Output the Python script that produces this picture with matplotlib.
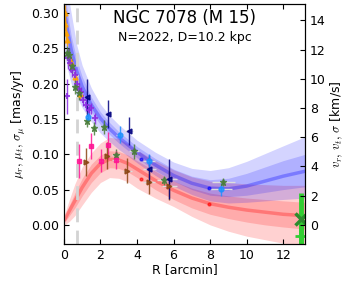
import numpy as np
import matplotlib
matplotlib.use('Agg')
import matplotlib.pyplot as plt

plt.rcParams['mathtext.fontset'] = 'cm'
plt.rcParams['font.size'] = 9

DIST = 10.2
KMS = 4.74 * DIST

# model: dispersion (blue)
r_sig = [0.05, 0.2, 0.4, 0.7, 1.0, 1.5, 2.0, 2.5, 3.0, 4.0, 5.0, 6.0, 7.0, 8.0, 9.0, 10.0, 11.0, 12.0, 13.2]
sig_mid = [0.300, 0.275, 0.248, 0.218, 0.196, 0.170, 0.151, 0.136, 0.124, 0.103, 0.085, 0.070, 0.059, 0.052, 0.051, 0.055, 0.062, 0.069, 0.076]
sig_lo1 = [0.270, 0.250, 0.228, 0.202, 0.183, 0.160, 0.142, 0.128, 0.116, 0.095, 0.077, 0.062, 0.050, 0.042, 0.040, 0.042, 0.046, 0.050, 0.054]
sig_hi1 = [0.330, 0.300, 0.268, 0.234, 0.210, 0.181, 0.160, 0.145, 0.132, 0.111, 0.094, 0.079, 0.069, 0.064, 0.066, 0.073, 0.082, 0.091, 0.100]
sig_lo2 = [0.240, 0.220, 0.200, 0.182, 0.166, 0.146, 0.130, 0.118, 0.107, 0.088, 0.070, 0.055, 0.043, 0.034, 0.031, 0.032, 0.034, 0.036, 0.038]
sig_hi2 = [0.360, 0.330, 0.300, 0.255, 0.226, 0.194, 0.171, 0.155, 0.142, 0.120, 0.103, 0.089, 0.080, 0.077, 0.081, 0.090, 0.101, 0.112, 0.125]

# model: rotation (red)
r_rot = [0.05, 0.3, 0.6, 1.0, 1.5, 2.0, 2.5, 3.0, 3.5, 4.0, 5.0, 6.0, 7.0, 8.0, 9.0, 10.0, 11.0, 12.0, 13.2]
rot_mid = [0.008, 0.020, 0.034, 0.053, 0.073, 0.087, 0.093, 0.092, 0.087, 0.079, 0.063, 0.049, 0.038, 0.030, 0.025, 0.021, 0.018, 0.015, 0.013]
rot_lo1 = [0.004, 0.013, 0.024, 0.041, 0.060, 0.074, 0.081, 0.080, 0.075, 0.067, 0.050, 0.036, 0.024, 0.015, 0.009, 0.004, 0.000, -0.003, -0.006]
rot_hi1 = [0.012, 0.028, 0.045, 0.066, 0.086, 0.099, 0.105, 0.104, 0.099, 0.091, 0.076, 0.062, 0.052, 0.045, 0.041, 0.038, 0.036, 0.034, 0.032]
rot_lo2 = [0.000, 0.005, 0.013, 0.028, 0.046, 0.060, 0.067, 0.066, 0.061, 0.052, 0.038, 0.026, 0.012, 0.000, -0.009, -0.016, -0.021, -0.026, -0.032]
rot_hi2 = [0.016, 0.036, 0.058, 0.082, 0.102, 0.116, 0.124, 0.122, 0.115, 0.106, 0.091, 0.078, 0.068, 0.062, 0.060, 0.058, 0.057, 0.056, 0.056]

# data sets: (R, value, error)
orange_r = [0.05, 0.08, 0.12, 0.16, 0.40, 0.60, 0.88]
orange_v = [0.300, 0.285, 0.272, 0.262, 0.231, 0.209, 0.185]
orange_e = [0.012, 0.010, 0.009, 0.008, 0.008, 0.008, 0.008]

purple_r = [0.15, 0.25, 0.33, 0.47, 0.58, 0.70, 0.80, 0.92, 1.06, 1.20, 1.35, 1.50, 1.70]
purple_v = [0.182, 0.236, 0.229, 0.219, 0.212, 0.200, 0.193, 0.188, 0.177, 0.170, 0.163, 0.165, 0.151]
purple_e = [0.025, 0.015, 0.012, 0.010, 0.010, 0.009, 0.008, 0.008, 0.008, 0.008, 0.008, 0.008, 0.008]

green_r = [0.15, 0.30, 0.45, 0.62, 0.84, 1.26, 1.64, 2.17, 2.85, 3.85, 5.46, 8.73]
green_v = [0.243, 0.240, 0.225, 0.195, 0.187, 0.147, 0.137, 0.139, 0.099, 0.104, 0.063, 0.061]
green_e = [0.010, 0.010, 0.010, 0.010, 0.010, 0.009, 0.009, 0.010, 0.009, 0.010, 0.006, 0.006]

navy_r = [1.26, 2.41, 3.54, 4.68, 5.77]
navy_v = [0.181, 0.157, 0.133, 0.079, 0.065]
navy_e = [0.025, 0.020, 0.020, 0.020, 0.028]

lblue_r = [1.30, 3.09, 4.64, 8.58]
lblue_v = [0.1535, 0.128, 0.0907, 0.0506]
lblue_e = [0.006, 0.012, 0.010, 0.009]

pink_r = [0.80, 1.50, 2.01, 2.41, 2.83]
pink_v = [0.090, 0.112, 0.091, 0.113, 0.092]
pink_e = [0.024, 0.018, 0.016, 0.019, 0.013]

brown_r = [1.21, 2.36, 3.47, 4.64, 5.77]
brown_v = [0.089, 0.098, 0.077, 0.0605, 0.0557]
brown_e = [0.020, 0.019, 0.018, 0.017, 0.020]

dots_r = [4.2, 7.95]
dots_sig = [0.093, 0.052]
dots_rot = [0.065, 0.030]

outer_r = [13.0]
outer_x = [0.0085]
outer_x_e = [0.037]
outer_p = [-0.016]
outer_p_e = [0.030]

r_core = 0.69


def bin_err(r):
    return np.maximum(0.12, 0.12 * np.asarray(r))


fig = plt.figure(figsize=(3.59, 2.82), dpi=100)
ax = fig.add_axes([0.178, 0.135, 0.672, 0.851])

ax.fill_between(r_rot, rot_lo2, rot_hi2, color='red', alpha=0.18, lw=0)
ax.fill_between(r_rot, rot_lo1, rot_hi1, color='red', alpha=0.18, lw=0)
ax.plot(r_rot, rot_mid, color='red', alpha=0.3, lw=2.5)
ax.fill_between(r_sig, sig_lo2, sig_hi2, color='blue', alpha=0.17, lw=0)
ax.fill_between(r_sig, sig_lo1, sig_hi1, color='blue', alpha=0.17, lw=0)
ax.plot(r_sig, sig_mid, color='blue', alpha=0.3, lw=2.5)

ax.axvline(r_core, color='lightgray', lw=2, dashes=(5, 3))

sets = [
    (orange_r, orange_v, orange_e, 'orange', '^', 3.5),
    (purple_r, purple_v, purple_e, 'blueviolet', '+', 4.5),
    (green_r, green_v, green_e, '#4a7d3a', '*', 4.5),
    (pink_r, pink_v, pink_e, 'deeppink', 's', 3),
    (brown_r, brown_v, brown_e, 'saddlebrown', '>', 3.5),
    (navy_r, navy_v, navy_e, 'navy', '<', 3.5),
    (lblue_r, lblue_v, lblue_e, 'dodgerblue', 'o', 3.5),
]
for rr, vv, ee, col, mk, size in sets:
    ax.errorbar(rr, vv, xerr=bin_err(rr) * 0.6, fmt='none', ecolor='#dddddd', lw=1)
    ax.errorbar(rr, vv, yerr=ee, fmt=mk, color=col, ms=size, mew=1.5 if mk == '+' else 1,
                lw=1, alpha=0.85)

ax.plot(dots_r, dots_sig, '.', color='blue', ms=4, alpha=0.6)
ax.plot(dots_r, dots_rot, '.', color='red', ms=4, alpha=0.6)

ax.errorbar(outer_r, outer_x, yerr=outer_x_e, fmt='x', color='#2e8b2e', ecolor='limegreen',
            ms=8, mew=2.5, lw=3.5)
ax.errorbar(outer_r, outer_p, yerr=outer_p_e, fmt='+', color='limegreen', ms=8, mew=2, lw=3.5)

ax.set_xlim(0, 13.2)
ax.set_ylim(-0.027, 0.313)
ax.set_xticks([0, 2, 4, 6, 8, 10, 12])
ax.set_yticks([0.00, 0.05, 0.10, 0.15, 0.20, 0.25, 0.30])
ax.yaxis.set_major_formatter(matplotlib.ticker.FormatStrFormatter('%.2f'))
ax.tick_params(direction='in', top=True, right=False, labelsize=9)
ax.set_xlabel('R [arcmin]', fontsize=9, labelpad=1)
ax.set_ylabel(r'$\mu_r,\,\mu_t,\,\sigma_\mu$ [mas/yr]', fontsize=9, labelpad=2)

ax2 = ax.twinx()
ax2.set_ylim(np.array(ax.get_ylim()) * KMS)
ax2.set_yticks([0, 2, 4, 6, 8, 10, 12, 14])
ax2.tick_params(direction='in', labelsize=9)
ax2.set_ylabel(r'$v_r,\,v_t,\,\sigma$ [km/s]', fontsize=9, labelpad=2)

ax.text(0.5, 0.94, 'NGC 7078 (M 15)', transform=ax.transAxes, ha='center', va='center', fontsize=12)
ax.text(0.5, 0.862, 'N=2022, D=10.2 kpc', transform=ax.transAxes, ha='center', va='center', fontsize=9)

fig.savefig('out.png', dpi=100)
